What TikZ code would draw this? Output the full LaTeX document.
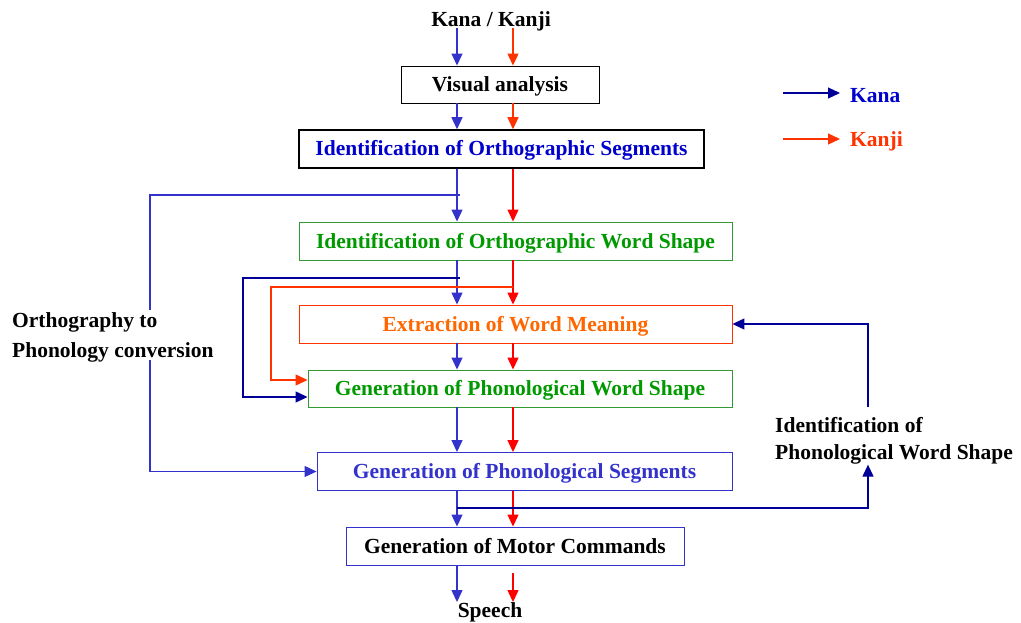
\documentclass[tikz,border=0pt]{standalone}
\usepackage{fontspec}
\setmainfont{Liberation Serif}
\usetikzlibrary{arrows.meta}
\definecolor{kanablue}{HTML}{3333CC}
\definecolor{kananavy}{HTML}{000099}
\definecolor{kanjired}{HTML}{FF3300}
\definecolor{purered}{HTML}{FF0000}
\definecolor{txtblue}{HTML}{0000CC}
\definecolor{txtgreen}{HTML}{009900}
\definecolor{boxgreen}{HTML}{339933}
\definecolor{txtorange}{HTML}{FF6600}
\tikzset{
  stage/.style={draw, line width=0.9pt, inner sep=0pt, text height=16pt, text depth=2pt,
    font=\bfseries\fontsize{21.5}{24}\selectfont},
  lbl/.style={inner sep=0pt, font=\bfseries\fontsize{21.5}{24}\selectfont},
  tip/.style={-{Triangle[length=12pt,width=11pt]}},
  ka/.style={tip, draw=kanablue, line width=1.2pt},
  kn/.style={tip, draw=kananavy, line width=1.2pt},
  kj/.style={tip, draw=kanjired, line width=1.2pt},
  kr/.style={tip, draw=purered, line width=1.2pt},
}
\begin{document}
\begin{tikzpicture}[x=1pt,y=-1pt]
\useasboundingbox (0,0) rectangle (1021,623);

% lanes of the two reading routes
\coordinate (kx) at (457,0);
\coordinate (jx) at (513,0);

% processing stages
\node[lbl] (src) at (491,21) {Kana / Kanji};
\node[stage, minimum width=198, minimum height=37] (vis) at (500,84.5) {Visual analysis};
\node[stage, line width=1.5pt, text=txtblue, minimum width=405, minimum height=38] (ios) at (501.5,149) {Identification of Orthographic Segments};
\node[stage, draw=boxgreen, text=txtgreen, minimum width=433, minimum height=38] (ows) at (515.5,241) {Identification of Orthographic Word Shape};
\node[stage, draw=kanjired, text=txtorange, minimum width=433, minimum height=38] (ewm) at (515.5,324) {Extraction of Word Meaning};
\node[stage, draw=boxgreen, text=txtgreen, minimum width=424, minimum height=37] (gpw) at (520,388.5) {Generation of Phonological Word Shape};
\node[stage, draw=kanablue, text=kanablue, minimum width=415, minimum height=38] (gps) at (524.5,471.5) {Generation of Phonological Segments};
\node[stage, draw=kanablue, minimum width=338, minimum height=38] (gmc) at (515,546) {Generation of Motor Commands};
\node[lbl] (out) at (490,612) {Speech};

% side labels
\node[lbl, anchor=west, align=left, font=\bfseries\fontsize{21.5}{30}\selectfont] (opc) at (12,337) {Orthography to\\Phonology conversion};
\node[lbl, anchor=west, align=left, font=\bfseries\fontsize{21.5}{27}\selectfont] (ipw) at (775,441) {Identification of\\Phonological Word Shape};

% legend
\coordinate (lk0) at (783,93);
\coordinate (lk1) at (840,93);
\node[lbl, anchor=west, text=txtblue] (lk) at (850,95.5) {Kana};
\coordinate (lj0) at (783,139);
\coordinate (lj1) at (840,139);
\node[lbl, anchor=west, text=kanjired] (lj) at (850,141.5) {Kanji};
\draw[kn] (lk0) -- (lk1);
\draw[kj] (lj0) -- (lj1);

% main vertical flow
\coordinate (top) at (0,28);
\coordinate (rlow) at (0,573);
\draw[ka] (kx |- top) -- (kx |- vis.north);
\draw[kj] (jx |- top) -- (jx |- vis.north);
\draw[ka] (kx |- vis.south) -- (kx |- ios.north);
\draw[kj] (jx |- vis.south) -- (jx |- ios.north);
\draw[ka] (kx |- ios.south) -- (kx |- ows.north);
\draw[kr] (jx |- ios.south) -- (jx |- ows.north);
\draw[ka] (kx |- ows.south) -- (kx |- ewm.north);
\draw[kr] (jx |- ows.south) -- (jx |- ewm.north);
\draw[ka] (kx |- ewm.south) -- (kx |- gpw.north);
\draw[kr] (jx |- ewm.south) -- (jx |- gpw.north);
\draw[ka] (kx |- gpw.south) -- (kx |- gps.north);
\draw[kr] (jx |- gpw.south) -- (jx |- gps.north);
\draw[ka] (kx |- gps.south) -- (kx |- gmc.north);
\draw[kr] (jx |- gps.south) -- (jx |- gmc.north);
\draw[ka] (kx |- gmc.south) -- (kx |- out.north);
\draw[kr] (jx |- rlow) -- (jx |- out.north);

% orthography-to-phonology bypass
\coordinate (b1) at (460,195);
\coordinate (b1e) at (150,0);
\draw[kanablue, line width=1.2pt] (b1) -- (150,195) -- (150,310);
\draw[ka] (150,360) -- (b1e |- gps.west) -- (gps.west);

% word-shape bypasses
\coordinate (b2) at (460,278);
\coordinate (b2e) at (0,397);
\draw[kn] (b2) -- (243,278) -- (243,397) -- (gpw.west |- b2e);
\coordinate (b3) at (513,287);
\coordinate (b3e) at (0,380);
\draw[kj] (b3) -- (271,287) -- (271,380) -- (gpw.west |- b3e);

% phonological feedback loop
\coordinate (b4) at (457,508);
\coordinate (fx) at (868,0);
\draw[kn] (b4) -- (868,508) -- (fx |- ipw.south);
\draw[kn] (868,407) -- (868,324) -- (ewm.east);
\end{tikzpicture}
\end{document}
